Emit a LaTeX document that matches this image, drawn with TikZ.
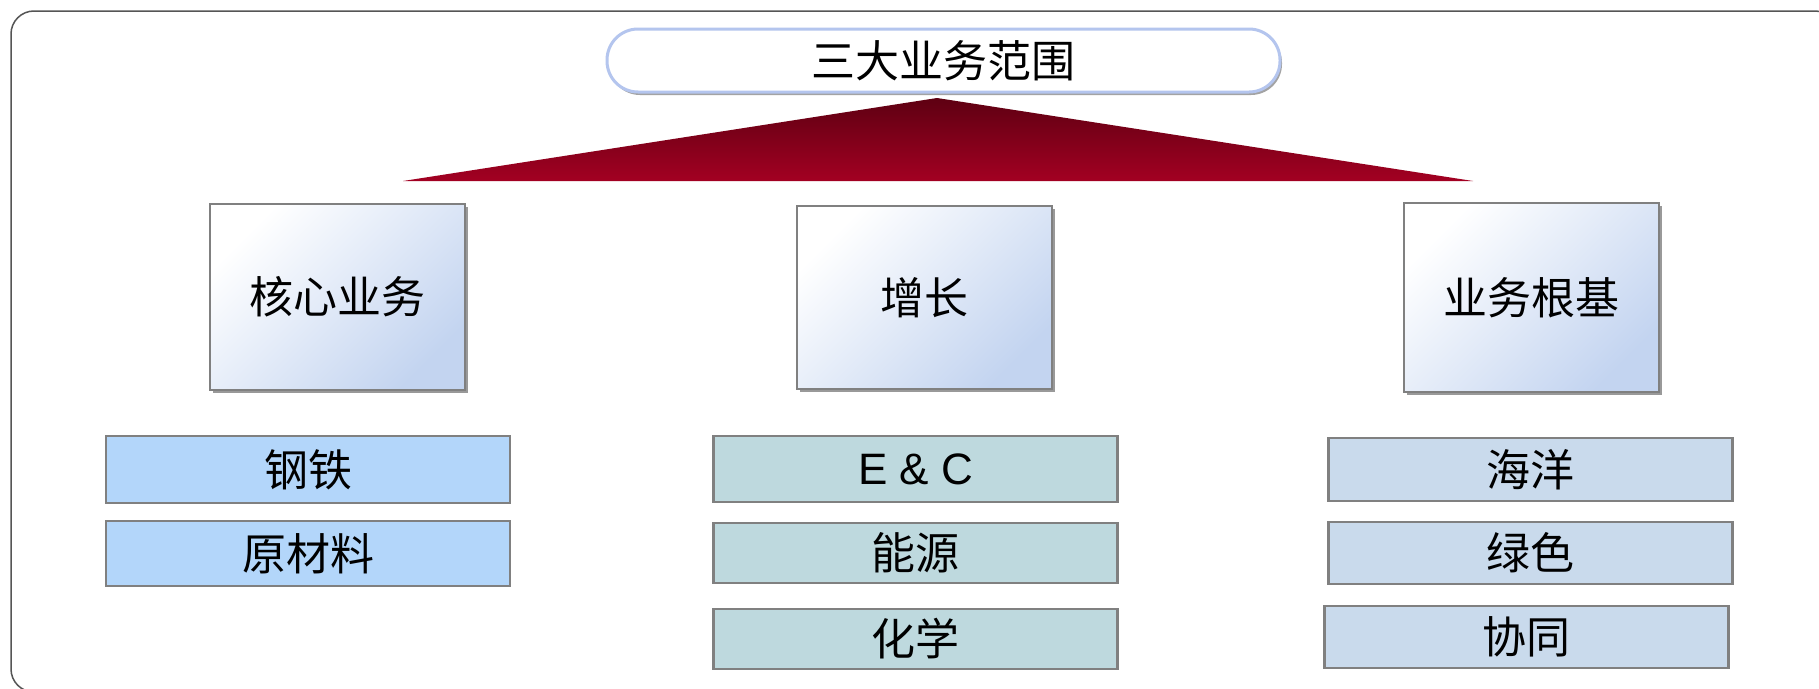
\documentclass[tikz,border=0pt]{standalone}
\usepackage{fontspec}
\setmainfont{Liberation Sans}
\newfontfamily\cjk{Noto Sans CJK SC}
\usetikzlibrary{shadows}
\definecolor{framegray}{HTML}{555555}
\definecolor{pillblue}{HTML}{B4C5EE}
\definecolor{tridark}{HTML}{5E0012}
\definecolor{trimid}{HTML}{95001E}
\definecolor{trired}{HTML}{A30022}
\definecolor{catblue}{HTML}{C3D4F0}
\definecolor{boxgray}{HTML}{808080}
\definecolor{fillA}{HTML}{B3D6FA}
\definecolor{fillB}{HTML}{BED9DE}
\definecolor{fillC}{HTML}{C9DAEC}
\tikzset{
  pill/.style={draw=pillblue, line width=3pt, fill=white, rounded corners=31pt,
    minimum width=673pt, minimum height=63pt, inner sep=0pt,
    drop shadow={shadow xshift=2pt, shadow yshift=-3pt, fill=black!45, opacity=0.8},
    font=\cjk\fontsize{44}{50}\selectfont},
  catbox/.style={draw=boxgray, line width=1.5pt, top color=white, bottom color=catblue,
    shading angle=45, minimum width=255pt, inner sep=0pt,
    drop shadow={shadow xshift=3pt, shadow yshift=-3pt, fill=black!50, opacity=0.8},
    font=\cjk\fontsize{44}{50}\selectfont},
  itembox/.style={draw=boxgray, line width=2.5pt, minimum width=404pt, inner sep=0pt,
    font=\cjk\fontsize{44}{50}\selectfont},
}
\begin{document}
\begin{tikzpicture}[x=1pt,y=-1pt]
\useasboundingbox (0,0) rectangle (1819,688);
\clip (0,0) rectangle (1819,688);
\fill[white] (0,0) rectangle (1819,688);
\draw[framegray, line width=1.5pt, rounded corners=23pt] (11,11) rectangle (1838,692);

\node[pill] (title) at (943.5,60.5) {三大业务范围};

\coordinate (apex) at (937,98);
\coordinate (bl) at (403,181);
\coordinate (br) at (1473,181);
\shade[top color=tridark, middle color=trimid, bottom color=trired] (apex) -- (br) -- (bl) -- cycle;

\node[catbox, minimum height=186pt] (core) at (337.5,297) {核心业务};
\node[catbox, minimum height=183pt] (grow) at (924.5,297.5) {增长};
\node[catbox, minimum height=189pt] (base) at (1531.5,297.5) {业务根基};

\node[itembox, fill=fillA, minimum height=67pt] (gt) at (308,469.5) {钢铁};
\node[itembox, fill=fillA, minimum height=65pt] (yc) at (308,553.5) {原材料};

\node[itembox, fill=fillB, minimum height=66pt, font=\fontsize{44}{50}\selectfont] (ec) at (915.5,469) {E \& C};
\node[itembox, fill=fillB, minimum height=60pt] (ny) at (915.5,553) {能源};
\node[itembox, fill=fillB, minimum height=60pt] (hx) at (915.5,639) {化学};

\node[itembox, fill=fillC, minimum height=63pt] (hy) at (1530.5,469.5) {海洋};
\node[itembox, fill=fillC, minimum height=62pt] (ls) at (1530.5,553) {绿色};
\node[itembox, fill=fillC, minimum height=62pt] (xt) at (1526.5,637) {协同};
\end{tikzpicture}
\end{document}
